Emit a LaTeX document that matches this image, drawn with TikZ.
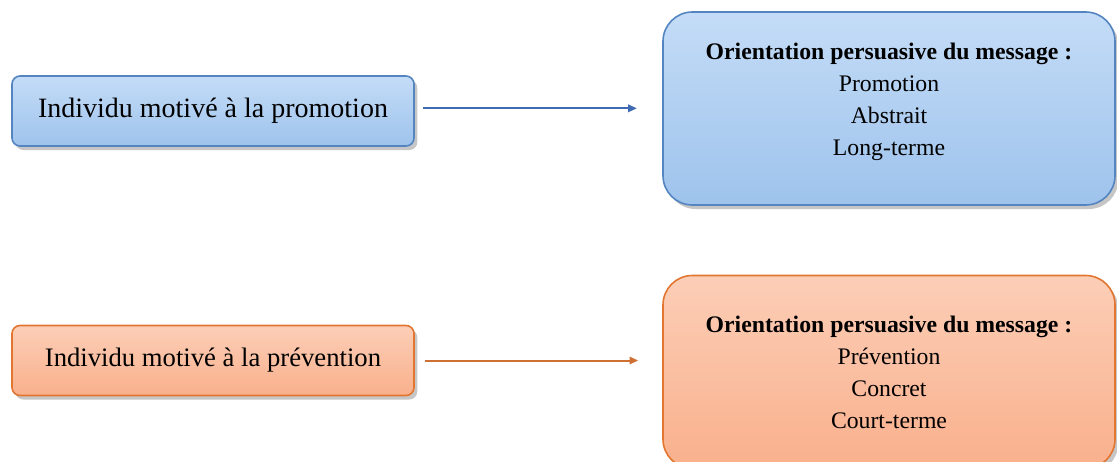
\documentclass[tikz,border=0pt]{standalone}
\usepackage{fontspec}
\setmainfont{Liberation Serif}
\usetikzlibrary{arrows.meta,shadows}
\definecolor{bluetop}{RGB}{196,220,247}
\definecolor{bluebot}{RGB}{158,195,236}
\definecolor{blueline}{RGB}{84,133,192}
\definecolor{bluearrow}{RGB}{64,106,178}
\definecolor{orangetop}{RGB}{252,206,183}
\definecolor{orangebot}{RGB}{249,176,140}
\definecolor{orangeline}{RGB}{226,118,48}
\definecolor{orangearrow}{RGB}{206,112,52}

\tikzset{
  boxbase/.style={rounded corners=6pt, line width=1.2pt,
    drop shadow={shadow xshift=2.5pt, shadow yshift=-3pt, opacity=0.45}},
  bluebox/.style={boxbase, draw=blueline, top color=bluetop, bottom color=bluebot},
  orangebox/.style={boxbase, draw=orangeline, top color=orangetop, bottom color=orangebot},
  indiv/.style={minimum width=301.5pt, minimum height=52.5pt, font=\fontsize{20}{24}\selectfont},
  msgbox/.style={minimum width=339pt, minimum height=144.75pt, rounded corners=22pt},
  msgtext/.style={align=center, font=\fontsize{17.8}{24}\selectfont},
  link/.style={line width=1.5pt, -{Triangle[length=6.5pt,width=5.5pt]}}
}

\begin{document}
\begin{tikzpicture}[x=0.75pt, y=-0.75pt]
  \useasboundingbox (0,0) rectangle (1117,461);

  % promotion
  \node[bluebox, indiv, font=\fontsize{21}{24}\selectfont] (promo) at (213,111)
    {Individu motivé à la promotion};
  \node[bluebox, msgbox] (msgA) at (889,108.5) {};
  \node[msgtext] (txtA) at ([yshift=5pt]msgA.center)
    {\textbf{Orientation persuasive du message :}\\Promotion\\Abstrait\\Long-terme};
  \draw[link, bluearrow, shorten <=6pt, shorten >=19pt]
    ([yshift=2pt]promo.east) -- ([yshift=2pt]promo.east -| msgA.west);

  % prevention
  \node[orangebox, indiv] (preve) at (213,360.5) {Individu motivé à la prévention};
  \node[orangebox, msgbox] (msgB) at (889,372) {};
  \node[msgtext] (txtB) at (msgB.center)
    {\textbf{Orientation persuasive du message :}\\Prévention\\Concret\\Court-terme};
  \draw[link, orangearrow, shorten <=8pt, shorten >=18pt]
    (preve.east) -- (preve.east -| msgB.west);
\end{tikzpicture}
\end{document}
